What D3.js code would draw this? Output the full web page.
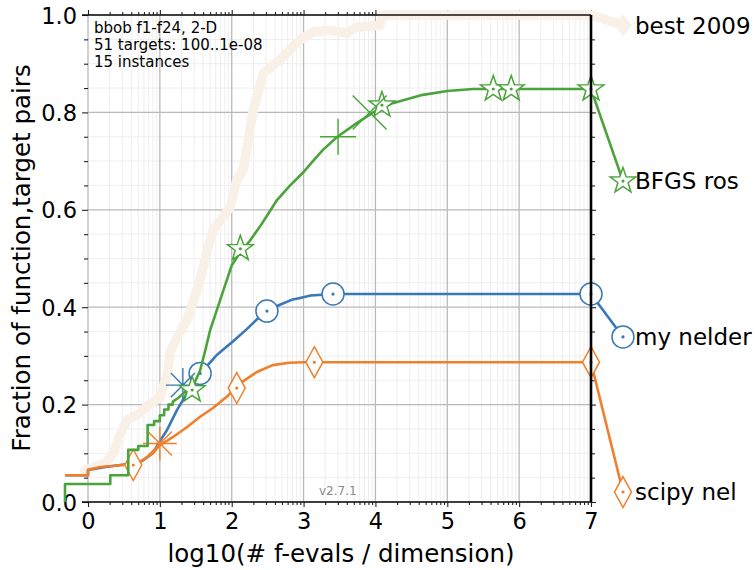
<!DOCTYPE html>
<html>
<head>
<meta charset="utf-8">
<script src="https://cdn.jsdelivr.net/npm/d3@7"></script>
<style>
  body { margin: 0; background: #fff; }
  text { font-family: "DejaVu Sans", sans-serif; }
</style>
</head>
<body>
<div id="chart"></div>
<script>
// ---- data (x = log10 evals/dim, y = fraction) ----
var best2009 = [[-0.05,0.065],[0.25,0.08],[0.35,0.1],[0.45,0.14],[0.55,0.17],[0.7,0.18],[0.85,0.2],[1.0,0.215],
  [1.1,0.26],[1.14,0.306],[1.24,0.339],[1.38,0.374],[1.46,0.409],[1.56,0.456],[1.66,0.517],[1.74,0.559],
  [1.88,0.585],[1.98,0.606],[2.07,0.661],[2.16,0.682],[2.23,0.743],[2.3,0.805],[2.44,0.881],[2.67,0.908],
  [2.95,0.949],[3.13,0.965],[3.37,0.969],[3.6,0.963],[3.74,0.975],[4.06,0.979],[4.1,1.0],[7,1.0]];

var myNelder = [[-0.32,0.055],[0,0.055],[0,0.066],[0.2,0.071],[0.5,0.077],[0.75,0.084],[0.9,0.1],[1.0,0.125],
  [1.1,0.148],[1.24,0.189],[1.38,0.224],[1.52,0.252],[1.66,0.28],[1.8,0.303],[2.02,0.33],[2.21,0.355],
  [2.35,0.375],[2.49,0.392],[2.67,0.405],[2.85,0.416],[2.95,0.419],[3.1,0.424],[3.41,0.427],[7,0.427]];

var scipyNel = [[-0.32,0.055],[0,0.055],[0,0.066],[0.17,0.072],[0.49,0.076],[0.72,0.082],[0.9,0.1],[1.0,0.117],
  [1.18,0.133],[1.38,0.154],[1.56,0.175],[1.74,0.193],[1.93,0.216],[2.12,0.244],[2.35,0.267],[2.57,0.281],
  [2.8,0.286],[3.0,0.287],[7,0.287]];

var bfgsRos = [[-0.32,0],[-0.32,0.037],[0.31,0.037],[0.31,0.055],[0.56,0.055],[0.56,0.107],[0.7,0.107],[0.7,0.115],
  [0.83,0.115],[0.83,0.158],[0.92,0.158],[0.92,0.166],[1.0,0.166],[1.0,0.178],[1.06,0.178],[1.06,0.19],
  [1.12,0.19],[1.12,0.2],[1.18,0.2],[1.18,0.206],[1.25,0.213],[1.32,0.222],[1.4,0.232],[1.48,0.244],
  [1.56,0.27],[1.63,0.31],[1.7,0.353],[1.84,0.415],[2.0,0.486],[2.12,0.513],[2.25,0.536],[2.39,0.565],
  [2.5,0.59],[2.63,0.62],[2.8,0.648],[2.99,0.676],[3.13,0.7],[3.27,0.723],[3.47,0.75],[3.74,0.778],
  [3.97,0.80],[4.24,0.819],[4.66,0.836],[5.0,0.844],[5.36,0.848],[7,0.848]];

// markers along the curves
var nelderCircles = [[1.56,0.264],[2.49,0.392],[3.41,0.427],[7,0.427]];
var nelderStarburst = [[1.32,0.24]];
var scipyDiamonds = [[0.63,0.076],[2.07,0.234],[3.15,0.287],[7,0.287]];
var scipyStarburst = [[1.0,0.12]];
var bfgsStars = [[1.45,0.23],[2.12,0.52],[4.09,0.815],[5.64,0.848],[5.89,0.848],[7,0.848]];
var bfgsPlus = [[3.48,0.75]];
var bfgsCross = [[3.92,0.80]];

// legend: label, value at right edge, y where label sits
var labels = ["best 2009", "BFGS ros", "my nelder", "scipy nel"];
var finalVals = [1.0, 0.848, 0.427, 0.287];
var labelVals = [0.979, 0.659, 0.339, 0.0205];
var labelX = 7.445;

var xTicks = [0,1,2,3,4,5,6,7];
var yTicks = [0,0.2,0.4,0.6,0.8,1.0];
var infoLines = ["bbob f1-f24, 2-D", "51 targets: 100..1e-08", "15 instances"];

var cBlue = "#3a78b5", cOrange = "#f07f2c", cGreen = "#4ba33b", cBest = "#f9f0e8";

var svg = d3.select("#chart").append("svg").attr("width", 755).attr("height", 570);
var x = d3.scaleLinear().domain([0,7]).range([88,591]);
var y = d3.scaleLinear().domain([0,1]).range([502,15]);

// minor grid
var minorX = [];
for (var i = 0; i < 7; i++) for (var k = 2; k <= 9; k++) minorX.push(i + Math.log10(k));
var minorY = d3.range(0, 1.0001, 0.05).filter(function(v){ return Math.abs(v*5 - Math.round(v*5)) > 0.01; });

var grid = svg.append("g");
grid.selectAll(".mx").data(minorX).enter().append("line")
  .attr("x1", x).attr("x2", x).attr("y1", y(0)).attr("y2", y(1))
  .attr("stroke", "#ececec").attr("stroke-width", 0.9);
grid.selectAll(".my").data(minorY).enter().append("line")
  .attr("x1", x(0)).attr("x2", x(7)).attr("y1", y).attr("y2", y)
  .attr("stroke", "#ececec").attr("stroke-width", 0.9);
grid.selectAll(".gx").data(xTicks).enter().append("line")
  .attr("x1", x).attr("x2", x).attr("y1", y(0)).attr("y2", y(1))
  .attr("stroke", "#b9b9b9").attr("stroke-width", 1.3);
grid.selectAll(".gy").data(yTicks).enter().append("line")
  .attr("x1", x(0)).attr("x2", x(7)).attr("y1", y).attr("y2", y)
  .attr("stroke", "#b9b9b9").attr("stroke-width", 1.3);

// axes
var axBottom = svg.append("g").attr("transform", "translate(0," + y(0) + ")")
  .call(d3.axisBottom(x).tickValues(xTicks).tickFormat(d3.format("d")).tickSize(5).tickPadding(6));
var axBottomMinor = svg.append("g").attr("transform", "translate(0," + y(0) + ")")
  .call(d3.axisBottom(x).tickValues(minorX).tickFormat("").tickSize(3));
var axTop = svg.append("g").attr("transform", "translate(0," + y(1) + ")")
  .call(d3.axisTop(x).tickValues(xTicks).tickFormat("").tickSize(5));
var axTopMinor = svg.append("g").attr("transform", "translate(0," + y(1) + ")")
  .call(d3.axisTop(x).tickValues(minorX).tickFormat("").tickSize(3));
var axLeft = svg.append("g").attr("transform", "translate(" + x(0) + ",0)")
  .call(d3.axisLeft(y).tickValues(yTicks).tickFormat(d3.format(".1f")).tickSize(6).tickPadding(5));
var axLeftMinor = svg.append("g").attr("transform", "translate(" + x(0) + ",0)")
  .call(d3.axisLeft(y).tickValues(minorY).tickFormat("").tickSize(4));
var axRight = svg.append("g").attr("transform", "translate(" + x(7) + ",0)")
  .call(d3.axisRight(y).tickValues(yTicks).tickFormat("").tickSize(5));
var axRightMinor = svg.append("g").attr("transform", "translate(" + x(7) + ",0)")
  .call(d3.axisRight(y).tickValues(minorY).tickFormat("").tickSize(4));

[axBottom, axBottomMinor, axTop, axTopMinor, axLeft, axLeftMinor, axRight, axRightMinor].forEach(function(g){
  g.select(".domain").remove();
  g.selectAll("line").attr("stroke", "#222").attr("stroke-width", 1.1);
  g.selectAll("text").attr("fill", "#000").style("font-size", "22.5px").style("font-family", "DejaVu Sans");
});
axLeft.selectAll("text").attr("dy", "0.36em");
axBottom.selectAll("text").attr("dy", "0.72em");

// text bits
svg.append("text").attr("x", 341).attr("y", 562).attr("text-anchor", "middle")
  .style("font-size", "24.5px").text("log10(# f-evals / dimension)");
svg.append("text").attr("transform", "translate(30,258) rotate(-90)").attr("text-anchor", "middle")
  .style("font-size", "24.5px").text("Fraction of function,target pairs");
svg.selectAll(".info").data(infoLines).enter().append("text")
  .attr("x", 94).attr("y", function(d,i){ return 32.5 + i*17; })
  .style("font-size", "15px").text(function(d){ return d; });
svg.append("text").attr("x", 319).attr("y", 495).style("font-size", "12px").attr("fill", "#8a8a8a").text("v2.7.1");

var line = d3.line().x(function(d){ return x(d[0]); }).y(function(d){ return y(d[1]); });

// best 2009 band
svg.append("path").attr("d", line(best2009.concat([[labelX, labelVals[0]]])))
  .attr("fill", "none").attr("stroke", cBest).attr("stroke-width", 9.5)
  .attr("stroke-linejoin", "round").attr("stroke-linecap", "round");
svg.append("path").attr("transform", "translate(" + x(labelX) + "," + y(labelVals[0]) + ")")
  .attr("d", "M0,-11L9,0L0,11L-9,0Z").attr("fill", cBest);

// marker shapes
function starPath(r) {
  var p = [];
  for (var j = 0; j < 10; j++) {
    var rr = j % 2 === 0 ? r : r * 0.4;
    var a = -Math.PI/2 + j * Math.PI/5;
    p.push([rr*Math.cos(a), rr*Math.sin(a)]);
  }
  return "M" + p.join("L") + "Z";
}
function burstPath(r) {
  var s = "";
  for (var j = 0; j < 4; j++) {
    var a = j * Math.PI/4;
    s += "M" + (r*Math.cos(a)) + "," + (r*Math.sin(a)) + "L" + (-r*Math.cos(a)) + "," + (-r*Math.sin(a));
  }
  return s;
}
var circlePath = d3.symbol().type(d3.symbolCircle).size(Math.PI*11*11)();
var diamondPath = "M0,-15.5L8.5,0L0,15.5L-8.5,0Z";

function drawSeries(data, color, pts, shape, finalVal, labVal) {
  var g = svg.append("g");
  g.append("path").attr("d", line(data)).attr("fill", "none").attr("stroke", color)
    .attr("stroke-width", 2.6).attr("stroke-linejoin", "round");
  g.append("path").attr("d", line([[7, finalVal], [labelX, labVal]])).attr("fill", "none")
    .attr("stroke", color).attr("stroke-width", 2.6);
  var all = pts.concat([[labelX, labVal]]);
  g.selectAll(".mk").data(all).enter().append("path")
    .attr("transform", function(d){ return "translate(" + x(d[0]) + "," + y(d[1]) + ")"; })
    .attr("d", shape).attr("fill", "#fff").attr("stroke", color).attr("stroke-width", 1.5);
  g.selectAll(".dot").data(all).enter().append("circle")
    .attr("cx", function(d){ return x(d[0]); }).attr("cy", function(d){ return y(d[1]); })
    .attr("r", 1.6).attr("fill", color);
  return g;
}

var gBlue = drawSeries(myNelder, cBlue, nelderCircles, circlePath, finalVals[2], labelVals[2]);
gBlue.selectAll(".sb").data(nelderStarburst).enter().append("path")
  .attr("transform", function(d){ return "translate(" + x(d[0]) + "," + y(d[1]) + ")"; })
  .attr("d", burstPath(17)).attr("stroke", cBlue).attr("stroke-width", 1.4).attr("fill", "none");

var gOrange = drawSeries(scipyNel, cOrange, scipyDiamonds, diamondPath, finalVals[3], labelVals[3]);
gOrange.selectAll(".sb").data(scipyStarburst).enter().append("path")
  .attr("transform", function(d){ return "translate(" + x(d[0]) + "," + y(d[1]) + ")"; })
  .attr("d", burstPath(17)).attr("stroke", cOrange).attr("stroke-width", 1.4).attr("fill", "none");

var gGreen = drawSeries(bfgsRos, cGreen, bfgsStars, starPath(13.5), finalVals[1], labelVals[1]);
gGreen.selectAll(".pl").data(bfgsPlus).enter().append("path")
  .attr("transform", function(d){ return "translate(" + x(d[0]) + "," + y(d[1]) + ")"; })
  .attr("d", "M-18,0L18,0M0,-18L0,18").attr("stroke", cGreen).attr("stroke-width", 1.4);
gGreen.selectAll(".cr").data(bfgsCross).enter().append("path")
  .attr("transform", function(d){ return "translate(" + x(d[0]) + "," + y(d[1]) + ")"; })
  .attr("d", "M-17,-17L17,17M-17,17L17,-17").attr("stroke", cGreen).attr("stroke-width", 1.4);

// spines
svg.append("line").attr("x1", 82).attr("x2", x(7)).attr("y1", y(0)).attr("y2", y(0)).attr("stroke", "#111").attr("stroke-width", 1.4);
svg.append("line").attr("x1", 82).attr("x2", x(7)).attr("y1", y(1)).attr("y2", y(1)).attr("stroke", "#111").attr("stroke-width", 1.4);
svg.append("line").attr("x1", x(7)).attr("x2", x(7)).attr("y1", y(1)).attr("y2", y(0)).attr("stroke", "#000").attr("stroke-width", 2.6);

// legend labels
svg.selectAll(".lab").data(labels).enter().append("text")
  .attr("x", 635).attr("y", function(d,i){ return y(labelVals[i]); }).attr("dy", "0.36em")
  .style("font-size", "23px").text(function(d){ return d; });
</script>
</body>
</html>
